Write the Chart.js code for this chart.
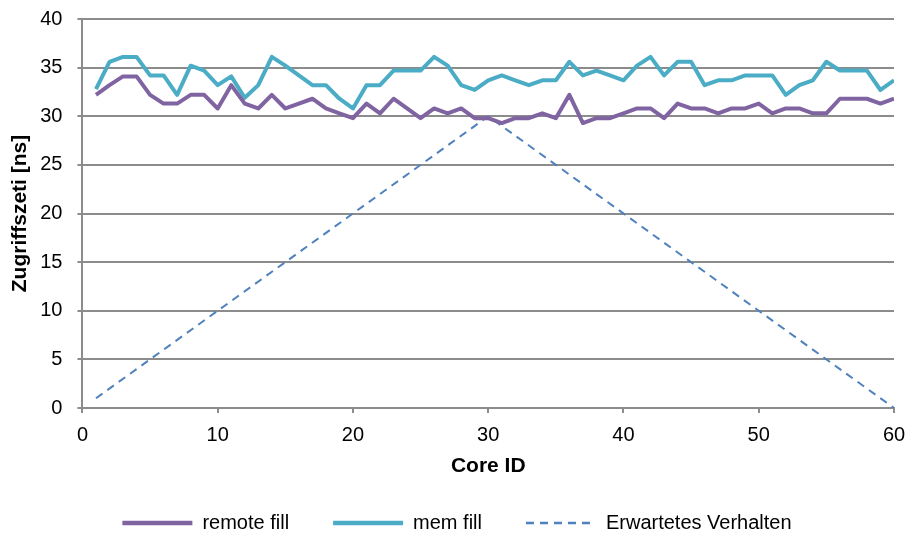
<!DOCTYPE html>
<html>
<head>
<meta charset="utf-8">
<script src="https://cdn.jsdelivr.net/npm/chart.js@4/dist/chart.umd.min.js"></script>
<style>
  html, body { margin: 0; padding: 0; background: #ffffff; }
  #wrap { width: 907px; height: 539px; }
</style>
</head>
<body>
<div id="wrap"><canvas id="chart" width="907" height="539"></canvas></div>
<script>
// Core IDs on the x axis
const coreIds = [1, 2, 3, 4, 5, 6, 7, 8, 9, 10,
  11, 12, 13, 14, 15, 16, 17, 18, 19, 20,
  21, 22, 23, 24, 25, 26, 27, 28, 29, 30,
  31, 32, 33, 34, 35, 36, 37, 38, 39, 40,
  41, 42, 43, 44, 45, 46, 47, 48, 49, 50,
  51, 52, 53, 54, 55, 56, 57, 58, 59, 60];

// Measured access times in ns
const remoteFill = [32.2, 33.2, 34.1, 34.1, 32.2, 31.3, 31.3, 32.2, 32.2, 30.8,
  33.2, 31.3, 30.8, 32.2, 30.8, 31.3, 31.8, 30.8, 30.3, 29.8,
  31.3, 30.3, 31.8, 30.8, 29.8, 30.8, 30.3, 30.8, 29.8, 29.8,
  29.3, 29.8, 29.8, 30.3, 29.8, 32.2, 29.3, 29.8, 29.8, 30.3,
  30.8, 30.8, 29.8, 31.3, 30.8, 30.8, 30.3, 30.8, 30.8, 31.3,
  30.3, 30.8, 30.8, 30.3, 30.3, 31.8, 31.8, 31.8, 31.3, 31.8];

const memFill = [32.8, 35.6, 36.1, 36.1, 34.2, 34.2, 32.2, 35.2, 34.7, 33.2,
  34.1, 31.9, 33.2, 36.1, 35.2, 34.2, 33.2, 33.2, 31.8, 30.8,
  33.2, 33.2, 34.7, 34.7, 34.7, 36.1, 35.2, 33.2, 32.7, 33.7,
  34.2, 33.7, 33.2, 33.7, 33.7, 35.6, 34.2, 34.7, 34.2, 33.7,
  35.2, 36.1, 34.2, 35.6, 35.6, 33.2, 33.7, 33.7, 34.2, 34.2,
  34.2, 32.2, 33.2, 33.7, 35.6, 34.7, 34.7, 34.7, 32.7, 33.7];

// Expected behaviour: corner points of the reference line
const expectedX = [1, 30, 60];
const expectedY = [1, 30, 0];

const seriesNames = ['remote fill', 'mem fill', 'Erwartetes Verhalten'];
const xTitle = 'Core ID';
const yTitle = 'Zugriffszeti [ns]';

const toPoints = (xs, ys) => xs.map((x, i) => ({ x: x, y: ys[i] }));

const FONT = '"Liberation Sans", Arial, sans-serif';
const GRID = '#8c8c8c';

// nudge the legend row to the right so it sits under the plot's centre
const legendShift = {
  id: 'legendShift',
  afterLayout(chart) {
    const lg = chart.legend;
    if (lg) { lg.left += 8; lg.right += 8; }
  }
};

new Chart(document.getElementById('chart'), {
  type: 'line',
  plugins: [legendShift],
  data: {
    datasets: [
      {
        label: seriesNames[0],
        data: toPoints(coreIds, remoteFill),
        borderColor: '#8064a2',
        backgroundColor: '#8064a2',
        borderWidth: 4
      },
      {
        label: seriesNames[1],
        data: toPoints(coreIds, memFill),
        borderColor: '#4bacc6',
        backgroundColor: '#4bacc6',
        borderWidth: 4
      },
      {
        label: seriesNames[2],
        data: toPoints(expectedX, expectedY),
        borderColor: '#4f81bd',
        backgroundColor: '#4f81bd',
        borderWidth: 2,
        borderDash: [8, 6]
      }
    ]
  },
  options: {
    responsive: false,
    animation: false,
    devicePixelRatio: 1,
    elements: {
      point: { radius: 0, hoverRadius: 0 },
      line: { tension: 0, borderJoinStyle: 'round', borderCapStyle: 'butt', fill: false }
    },
    layout: { padding: { top: 19, right: 13, bottom: 0, left: 4 } },
    plugins: {
      tooltip: { enabled: false },
      legend: {
        position: 'bottom',
        maxHeight: 70,
        labels: {
          usePointStyle: true,
          pointStyleWidth: 70,
          padding: 44,
          color: '#000000',
          font: { family: FONT, size: 20 },
          generateLabels(chart) {
            return chart.data.datasets.map((ds, i) => ({
              text: ds.label,
              strokeStyle: ds.borderColor,
              fillStyle: ds.borderColor,
              lineWidth: ds.borderWidth + 0.5,
              lineDash: ds.borderDash || [],
              pointStyle: 'line',
              hidden: false,
              datasetIndex: i,
              fontColor: '#000000'
            }));
          }
        }
      }
    },
    scales: {
      x: {
        type: 'linear',
        min: 0,
        max: 60,
        afterFit(scale) {
          // edge labels may overhang the plot; the outer layout padding covers them
          scale.paddingLeft = 0;
          scale.paddingRight = 0;
        },
        ticks: {
          stepSize: 10,
          padding: 10,
          color: '#000000',
          font: { family: FONT, size: 20 }
        },
        grid: {
          drawOnChartArea: false,
          drawTicks: true,
          tickLength: 5,
          color: GRID,
          lineWidth: 2
        },
        border: { color: GRID, width: 2 },
        title: {
          display: true,
          text: xTitle,
          color: '#000000',
          font: { family: FONT, size: 21, weight: 'bold' },
          padding: { top: -3.6, bottom: -9.6 }
        }
      },
      y: {
        min: 0,
        max: 40,
        afterFit(scale) {
          scale.paddingTop = 0;
          scale.paddingBottom = 0;
        },
        ticks: {
          stepSize: 5,
          padding: 15,
          color: '#000000',
          font: { family: FONT, size: 20 }
        },
        grid: {
          color: GRID,
          lineWidth: 2,
          tickLength: 5
        },
        border: { color: GRID, width: 2 },
        title: {
          display: true,
          text: yTitle,
          color: '#000000',
          font: { family: FONT, size: 21, weight: 'bold' },
          padding: { top: 4, bottom: -8 }
        }
      }
    }
  }
});
</script>
</body>
</html>
